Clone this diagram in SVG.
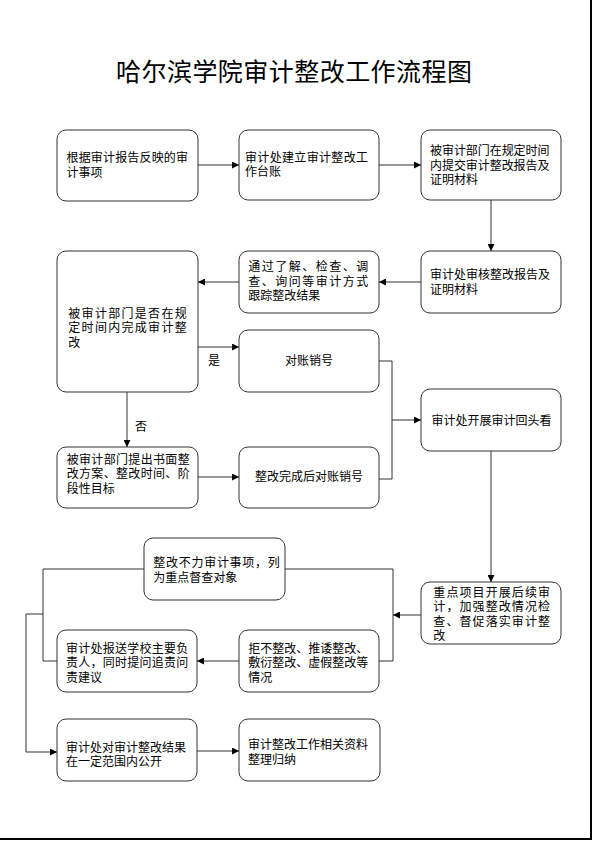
<svg xmlns="http://www.w3.org/2000/svg" width="592" height="841" viewBox="0 0 592 841">
<style>
.n rect{fill:#fff;stroke:#333;stroke-width:1}
text{font-family:"Liberation Sans","Noto Sans CJK SC",sans-serif;font-size:12px;fill:#000}
.c{text-anchor:middle}
.e path{fill:none;stroke:#333;stroke-width:1}
.t{font-size:25px}
</style>
<defs>
<marker id="a" viewBox="0 0 8 8" refX="8" refY="4" markerWidth="7" markerHeight="7" markerUnits="userSpaceOnUse" orient="auto">
<path d="M0,0 L8,4 L0,8 Z" fill="#000"/>
</marker>
</defs>
<rect x="0" y="0" width="592" height="841" fill="#fff"/>
<path d="M591,0 V839 H0" fill="none" stroke="#000" stroke-width="2"/>
<text class="t c" x="294" y="81" textLength="356" lengthAdjust="spacing">哈尔滨学院审计整改工作流程图</text>

<g class="e" id="connectors">
<path d="M198,165 H239" marker-end="url(#a)"/>
<path d="M379,165 H421" marker-end="url(#a)"/>
<path d="M491,200 V251" marker-end="url(#a)"/>
<path d="M421,282 H379" marker-end="url(#a)"/>
<path d="M239,282 H198" marker-end="url(#a)"/>
<path d="M198,347 H239" marker-end="url(#a)"/>
<path d="M127,392 V447" marker-end="url(#a)"/>
<path d="M198,477 H239" marker-end="url(#a)"/>
<path d="M379,361 H392 V479 H379"/>
<path d="M392,420 H421" marker-end="url(#a)"/>
<path d="M491,451 V582" marker-end="url(#a)"/>
<path d="M421,615 H393" marker-end="url(#a)"/>
<path d="M285,569 H393 V661 H379"/>
<path d="M239,661 H197" marker-end="url(#a)"/>
<path d="M144,569 H43 V661 H57"/>
<path d="M43,614 H26 V752 H57" marker-end="url(#a)"/>
<path d="M197,751 H239" marker-end="url(#a)"/>
<text x="208" y="364.5">是</text>
<text x="135" y="431">否</text>
</g>

<g class="n" id="n1"><rect x="57" y="130" width="141" height="71" rx="9"/>
<text x="66.5" y="162.2" textLength="121.5" lengthAdjust="spacing">根据审计报告反映的审</text><text x="66.5" y="176.6">计事项</text></g>

<g class="n" id="n2"><rect x="239" y="130" width="140" height="70" rx="9"/>
<text x="245" y="162" textLength="123" lengthAdjust="spacing">审计处建立审计整改工</text><text x="245" y="176.4">作台账</text></g>

<g class="n" id="n3"><rect x="421" y="130" width="140" height="70" rx="9"/>
<text x="430" y="155.4" textLength="119.5" lengthAdjust="spacing">被审计部门在规定时间</text><text x="430" y="169.8" textLength="119.5" lengthAdjust="spacing">内提交审计整改报告及</text><text x="430" y="184.2">证明材料</text></g>

<g class="n" id="n4"><rect x="421" y="251" width="140" height="62" rx="9"/>
<text x="430" y="279.2" textLength="120" lengthAdjust="spacing">审计处审核整改报告及</text><text x="430" y="293.6">证明材料</text></g>

<g class="n" id="n5"><rect x="239" y="251" width="140" height="62" rx="9"/>
<text x="248.3" y="271.4" textLength="120" lengthAdjust="spacing">通过了解、检查、调</text><text x="248.3" y="285.8" textLength="120" lengthAdjust="spacing">查、询问等审计方式</text><text x="248.3" y="300.2">跟踪整改结果</text></g>

<g class="n" id="n6"><rect x="57" y="251" width="141" height="141" rx="9"/>
<text x="68.3" y="317.7" textLength="118.4" lengthAdjust="spacing">被审计部门是否在规</text><text x="68.3" y="332.1" textLength="118.4" lengthAdjust="spacing">定时间内完成审计整</text><text x="68.3" y="346.5">改</text></g>

<g class="n" id="n7"><rect x="239" y="330" width="140" height="62" rx="9"/>
<text class="c" x="309" y="365.2">对账销号</text></g>

<g class="n" id="n8"><rect x="57" y="447" width="141" height="61" rx="9"/>
<text x="66.7" y="464" textLength="123" lengthAdjust="spacing">被审计部门提出书面整</text><text x="66.7" y="478.4" textLength="123" lengthAdjust="spacing">改方案、整改时间、阶</text><text x="66.7" y="492.8">段性目标</text></g>

<g class="n" id="n9"><rect x="239" y="447" width="140" height="61" rx="9"/>
<text class="c" x="309" y="481.2">整改完成后对账销号</text></g>

<g class="n" id="n10"><rect x="421" y="389" width="140" height="62" rx="9"/>
<text class="c" x="491.5" y="424.5">审计处开展审计回头看</text></g>

<g class="n" id="n11"><rect x="421" y="582" width="140" height="62" rx="9"/>
<text x="433.3" y="596.9" textLength="116.7" lengthAdjust="spacing">重点项目开展后续审</text><text x="433.3" y="611.3" textLength="116.7" lengthAdjust="spacing">计，加强整改情况检</text><text x="433.3" y="625.7" textLength="116.7" lengthAdjust="spacing">查、督促落实审计整</text><text x="433.3" y="640.1">改</text></g>

<g class="n" id="n12"><rect x="144" y="538" width="141" height="62" rx="9"/>
<text x="153.3" y="567.1" textLength="126.5" lengthAdjust="spacing">整改不力审计事项，列</text><text x="153.3" y="581.5">为重点督查对象</text></g>

<g class="n" id="n13"><rect x="239" y="630" width="140" height="62" rx="9"/>
<text x="248.3" y="652.7">拒不整改、推诿整改、</text><text x="248.3" y="667.1">敷衍整改、虚假整改等</text><text x="248.3" y="681.5">情况</text></g>

<g class="n" id="n14"><rect x="57" y="630" width="140" height="62" rx="9"/>
<text x="66" y="652.7" textLength="122.3" lengthAdjust="spacing">审计处报送学校主要负</text><text x="66" y="667.1" textLength="122.3" lengthAdjust="spacing">责人，同时提问追责问</text><text x="66" y="681.5">责建议</text></g>

<g class="n" id="n15"><rect x="57" y="719" width="140" height="62" rx="9"/>
<text x="66" y="752">审计处对审计整改结果</text><text x="66" y="766.4">在一定范围内公开</text></g>

<g class="n" id="n16"><rect x="239" y="719" width="141" height="62" rx="9"/>
<text x="248" y="749.4">审计整改工作相关资料</text><text x="248" y="763.8">整理归纳</text></g>
</svg>
